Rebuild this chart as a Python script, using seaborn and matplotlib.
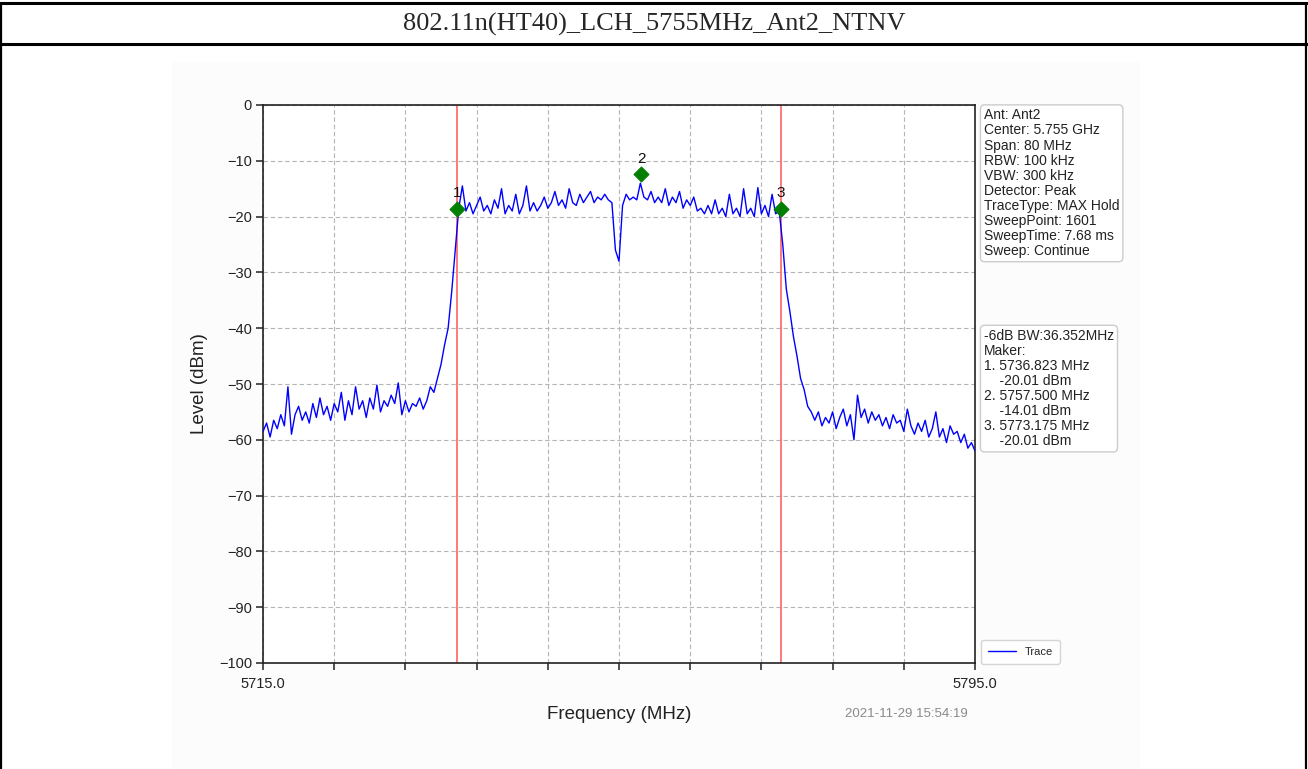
import numpy as np
import pandas as pd
import matplotlib
matplotlib.use("Agg")
import matplotlib.pyplot as plt
import seaborn as sns
from matplotlib.lines import Line2D
from matplotlib.patches import Rectangle

# ---------------- data ----------------
title = "802.11n(HT40)_LCH_5755MHz_Ant2_NTNV"
freq_start = 5715.0
freq_stop = 5795.0
freq_step = 0.4
trace_levels = [
    -58.5, -57.0, -59.5, -56.5, -58.0, -55.5, -57.5, -50.5, -59.0, -55.5,
    -54.0, -56.5, -55.0, -57.0, -53.5, -56.0, -52.5, -55.5, -54.0, -56.5,
    -53.5, -55.0, -51.5, -56.5, -53.0, -55.5, -50.5, -54.5, -53.0, -56.0,
    -52.5, -54.5, -50.2, -55.0, -53.0, -54.0, -52.0, -53.5, -49.8, -55.5,
    -53.0, -55.0, -53.5, -54.0, -52.5, -54.5, -53.0, -50.5, -51.5, -49.0,
    -46.5, -43.0, -40.0, -33.5, -26.0, -18.5, -14.5, -19.0, -17.5, -19.5,
    -18.0, -16.5, -19.0, -18.0, -19.5, -17.0, -18.5, -15.0, -19.5, -18.0,
    -19.0, -16.0, -19.5, -18.0, -14.5, -19.0, -17.5, -19.0, -18.0, -16.5,
    -18.5, -17.5, -15.5, -18.0, -17.0, -18.5, -15.0, -17.5, -18.0, -16.0,
    -17.5, -16.5, -15.5, -17.5, -16.5, -17.0, -16.0, -17.0, -17.5, -26.0,
    -28.0, -18.0, -16.0, -17.0, -16.5, -17.0, -14.0, -16.5, -17.0, -15.5,
    -17.5, -16.5, -17.5, -15.0, -18.0, -16.5, -17.5, -15.5, -18.5, -17.0,
    -18.0, -16.5, -19.0, -18.5, -19.5, -18.0, -19.5, -17.0, -19.5, -18.5,
    -20.0, -16.0, -19.5, -18.5, -20.0, -15.0, -19.5, -18.5, -20.0, -14.8,
    -19.5, -18.0, -20.0, -16.0, -19.5, -19.0, -25.0, -33.0, -37.0, -41.5,
    -45.0, -49.0, -51.0, -54.0, -55.0, -56.5, -55.0, -57.5, -56.0, -57.0,
    -55.0, -58.0, -56.0, -54.5, -57.5, -55.5, -60.0, -52.0, -56.0, -54.5,
    -57.0, -55.0, -56.5, -55.5, -57.5, -56.0, -58.0, -55.5, -57.0, -56.5,
    -58.5, -54.5, -57.5, -59.0, -57.0, -58.5, -56.5, -59.5, -58.0, -55.0,
    -59.5, -58.0, -60.5, -57.5, -59.0, -58.5, -60.5, -59.0, -61.5, -60.5,
    -62.0,
]
marker_ids = ["1", "2", "3"]
marker_freqs = [5736.823, 5757.500, 5773.175]
marker_plot_levels = [-18.6, -12.4, -18.6]
marker_text_levels = [-20.01, -14.01, -20.01]
bw_lines = [5736.823, 5773.175]
occupied_bw = 36.352

info_lines = [
    "Ant: Ant2",
    "Center: 5.755 GHz",
    "Span: 80 MHz",
    "RBW: 100 kHz",
    "VBW: 300 kHz",
    "Detector: Peak",
    "TraceType: MAX Hold",
    "SweepPoint: 1601",
    "SweepTime: 7.68 ms",
    "Sweep: Continue",
]
x_ticks = [5715, 5723, 5731, 5739, 5747, 5755, 5763, 5771, 5779, 5787, 5795]
x_tick_labels = ["5715.0", "", "", "", "", "", "", "", "", "", "5795.0"]
y_ticks = [0, -10, -20, -30, -40, -50, -60, -70, -80, -90, -100]
timestamp = "2021-11-29 15:54:19"

freqs = freq_start + freq_step * np.arange(len(trace_levels))
df = pd.DataFrame({"Frequency": freqs, "Level": trace_levels})
mk = pd.DataFrame({"Frequency": marker_freqs, "Level": marker_plot_levels, "id": marker_ids})

# ---------------- style ----------------
sns.set_style("ticks")
plt.rcParams["font.family"] = ["Liberation Sans", "DejaVu Sans"]
plt.rcParams["axes.unicode_minus"] = True

W, H = 1308, 769
fig = plt.figure(figsize=(W / 100, H / 100), dpi=100)
fig.patch.set_facecolor("white")

# inner light background of the embedded image
fig.add_artist(Rectangle((172 / W, 0), (1140 - 172) / W, (769 - 62) / H,
                         transform=fig.transFigure, facecolor="#fcfcfc",
                         edgecolor="none", zorder=-5))
# table frame
for y in [1 - 3 / H, 1 - 44 / H]:
    fig.add_artist(Line2D([0, 1], [y, y], transform=fig.transFigure,
                          color="black", lw=2.2, zorder=5))
for x in [1.2 / W, 1 - 2.5 / W]:
    fig.add_artist(Line2D([x, x], [0, 1 - 3 / H], transform=fig.transFigure,
                          color="black", lw=1.6, zorder=5))
fig.text(0.5, 1 - 24 / H, title, ha="center", va="center",
         family=["Liberation Serif", "DejaVu Serif"], fontsize=19)

ax = fig.add_axes([263 / W, 1 - 663 / H, (975 - 263) / W, (663 - 105) / H])
ax.set_facecolor("white")

sns.lineplot(data=df, x="Frequency", y="Level", ax=ax, color="#0000ff",
             lw=1.0, label="Trace", zorder=3)
for xv in bw_lines:
    ax.axvline(xv, color="#ff5555", lw=1.3, alpha=0.85, zorder=2)
sns.scatterplot(data=mk, x="Frequency", y="Level", ax=ax, marker="D", s=60,
                color="#007f00", edgecolor="#007f00", zorder=4, legend=False)
for fx, lv, lab in zip(marker_freqs, marker_plot_levels, marker_ids):
    ax.annotate(lab, (fx, lv), xytext=(0, 6), textcoords="offset points",
                ha="center", va="bottom", fontsize=11, color="#111111", zorder=5)

ax.set_xlim(freq_start, freq_stop)
ax.set_ylim(-100, 0)
ax.set_xticks(x_ticks)
ax.set_xticklabels(x_tick_labels)
ax.set_yticks(y_ticks)
ax.tick_params(axis="both", direction="out", length=5, width=1.1,
               labelsize=10.5, color="#222222", labelcolor="#222222", pad=3)
ax.tick_params(axis="x", pad=5)
ax.grid(True, ls=(0, (4, 2.5)), color="#b5b5b5", lw=0.8)
for sp in ax.spines.values():
    sp.set_visible(True)
    sp.set_color("#222222")
    sp.set_linewidth(1.2)

ax.set_xlabel("Frequency (MHz)", fontsize=13.5, labelpad=11, color="#222222")
ax.set_ylabel("Level (dBm)", fontsize=13.5, labelpad=8, color="#222222")

box = dict(boxstyle="round,pad=0.25,rounding_size=0.3", facecolor="white",
           edgecolor="#cccccc", lw=1.0)
ax.text(1.0125, 0.994, "\n".join(info_lines), transform=ax.transAxes,
        ha="left", va="top", fontsize=10, linespacing=1.1, bbox=box,
        color="#222222")
mk_lines = [f"-6dB BW:{occupied_bw:.3f}MHz", "Maker:"]
for i, (fx, lv) in enumerate(zip(marker_freqs, marker_text_levels), 1):
    mk_lines.append(f"{i}. {fx:.3f} MHz")
    mk_lines.append(f"    {lv:.2f} dBm")
ax.text(1.0125, 0.599, "\n".join(mk_lines), transform=ax.transAxes,
        ha="left", va="top", fontsize=10, linespacing=1.1, bbox=box,
        color="#222222")

leg = ax.legend(loc="lower left", bbox_to_anchor=(1.001, -0.011), fontsize=8,
                frameon=True, fancybox=True, handlelength=2.5,
                borderpad=0.6, edgecolor="#cccccc")
leg.get_frame().set_linewidth(1.0)

fig.text(845 / W, 1 - 714 / H, timestamp, ha="left", va="center",
         fontsize=9.5, color="#8a8a8a")

fig.savefig("out.png", dpi=100, facecolor=fig.get_facecolor())
